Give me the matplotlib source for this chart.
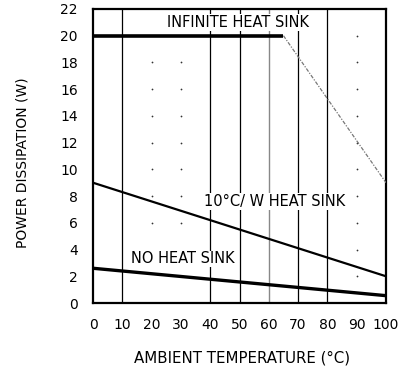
import matplotlib
matplotlib.use("Agg")
import matplotlib.pyplot as plt

plt.rcParams['font.family'] = ['DejaVu Sans']

# curves
inf_x = [0, 65]
inf_y = [20, 20]
inf_fall_x = [65, 100]
inf_fall_y = [20, 9]
hs10_x = [0, 50, 100]
hs10_y = [9.0, 5.5, 2.0]
nohs_x = [0, 100]
nohs_y = [2.6, 0.55]

x_ticks = [0, 10, 20, 30, 40, 50, 60, 70, 80, 90, 100]
y_ticks = [0, 2, 4, 6, 8, 10, 12, 14, 16, 18, 20, 22]
grid_lines = [10, 40, 50, 70, 80]
grey_line = 60
dot_cols_left = [20, 30]
dot_rows_left = [6, 8, 10, 12, 14, 16, 18]
dot_col_right = 90
dot_rows_right = [2, 4, 6, 8, 10, 12, 14, 16, 18, 20]

fig = plt.figure(figsize=(4.01, 3.79), dpi=100)
ax = fig.add_axes([0.232, 0.2005, 0.7306, 0.7758])

for gx in grid_lines:
    ax.axvline(gx, color='black', lw=0.9, zorder=1)
ax.axvline(grey_line, color='#888888', lw=1.0, zorder=1)
for cx in dot_cols_left:
    ax.scatter([cx] * len(dot_rows_left), dot_rows_left, s=1.6, color='#333333', lw=0, zorder=1)
ax.scatter([dot_col_right] * len(dot_rows_right), dot_rows_right, s=1.6, color='#333333', lw=0, zorder=1)

ax.plot(inf_x, inf_y, color='black', lw=2.6, solid_capstyle='butt', zorder=3)
ax.plot(inf_fall_x, inf_fall_y, color='#777777', lw=0.9, ls=(0, (3, 1.2, 1, 1.2)), zorder=3)
ax.plot(hs10_x, hs10_y, color='black', lw=1.6, zorder=3)
ax.plot(nohs_x, nohs_y, color='black', lw=2.4, zorder=3)

lbl = dict(ha='center', va='center', fontsize=10.5, zorder=4,
           bbox=dict(facecolor='white', edgecolor='none', pad=0.5))
ax.text(49.5, 21.0, 'INFINITE HEAT SINK', **lbl)
ax.text(62, 7.6, '10°C/ W HEAT SINK', **lbl)
ax.text(30.5, 3.3, 'NO HEAT SINK', **lbl)

ax.set_xlim(0, 100)
ax.set_ylim(0, 22)
ax.set_xticks(x_ticks)
ax.set_yticks(y_ticks)
ax.tick_params(axis='x', length=0, labelsize=10, pad=11)
ax.tick_params(axis='y', length=0, labelsize=10, pad=11)
for s in ax.spines.values():
    s.set_linewidth(1.6)

fig.text(0.603, 0.055, 'AMBIENT TEMPERATURE (°C)', ha='center', va='center', fontsize=10.8)
fig.text(0.055, 0.57, 'POWER DISSIPATION (W)', ha='center', va='center', rotation=90, fontsize=10)

fig.savefig('out.png', dpi=100)
